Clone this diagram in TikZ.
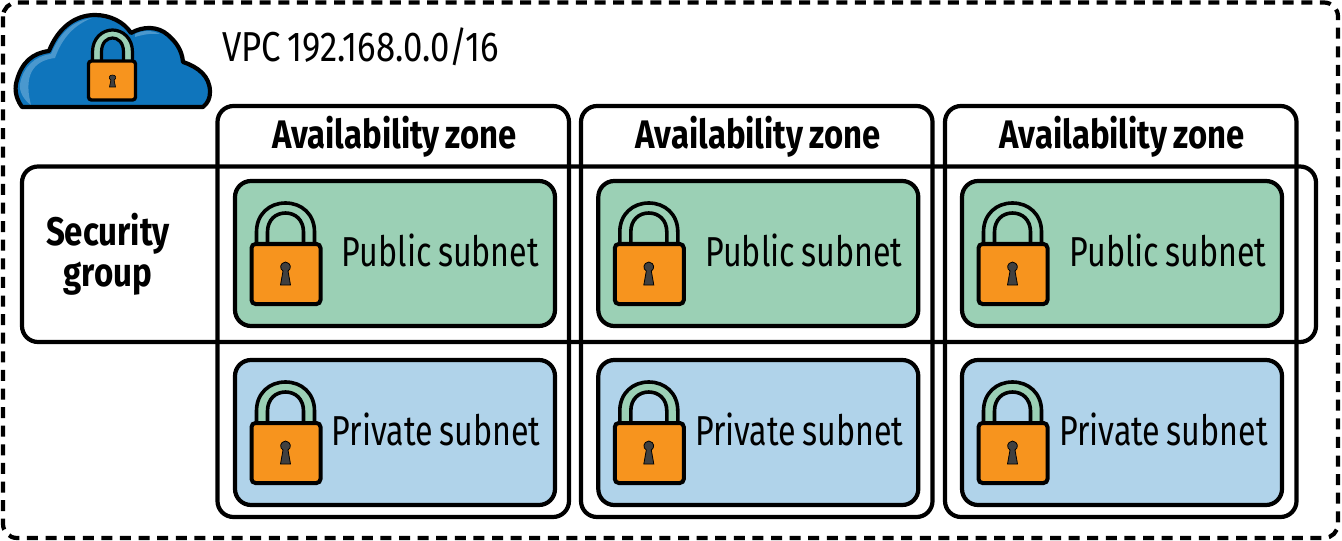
\documentclass[tikz,border=0pt]{standalone}
\usepackage{fontspec}
\setmainfont[WordSpace=0.75]{Fira Sans}
\definecolor{pubgreen}{HTML}{9BD0B5}
\definecolor{privblue}{HTML}{B0D3EA}
\definecolor{lockorange}{HTML}{F7941E}
\definecolor{cloudblue}{HTML}{0F75BC}
\definecolor{cloudlight}{HTML}{4A98CE}
\newcommand{\lbl}[1]{\scalebox{0.77}[1]{#1}}
\tikzset{
  x=1bp,y=-1bp,
  ln/.style={draw=black,line width=4.2bp},
  azbox/.style={ln,rounded corners=16bp},
  pubbox/.style={ln,rounded corners=16bp,fill=pubgreen},
  privbox/.style={ln,rounded corners=16bp,fill=privblue},
  lab/.style={font=\fontsize{42}{44}\selectfont,inner sep=0pt,anchor=center},
  labb/.style={font=\fontsize{40}{44}\selectfont\bfseries,inner sep=0pt,anchor=center},
  padlock/.pic={
    \path[fill=pubgreen,draw=black,line width=3.6bp,line join=round]
      (-29,-24) -- (-29,-36) .. controls (-29,-54) and (-16,-65) .. (0,-65)
      .. controls (16,-65) and (29,-54) .. (29,-36) -- (29,-24) -- (18,-24)
      -- (18,-36) .. controls (18,-48) and (10,-55) .. (0,-55)
      .. controls (-10,-55) and (-18,-48) .. (-18,-36) -- (-18,-24) -- cycle;
    \path[fill=lockorange,draw=black,line width=4bp,rounded corners=4bp]
      (-34,-24) rectangle (35,36);
    \path[fill=black!75,draw=black,line width=.8bp]
      (-2.5,3) -- (-5,17) -- (5,17) -- (2.5,3) .. controls (6,1) and (6,-5) .. (0,-6)
      .. controls (-6,-5) and (-6,1) .. (-2.5,3) -- cycle;
  },
  cloudlock/.pic={
    \path[fill=pubgreen,draw=black,line width=3.2bp,line join=round]
      (-20,-18) -- (-20,-28) .. controls (-20,-42) and (-10,-50) .. (0,-50)
      .. controls (10,-50) and (20,-42) .. (20,-28) -- (20,-18) -- (11,-18)
      -- (11,-28) .. controls (11,-38) and (5,-42) .. (0,-42)
      .. controls (-5,-42) and (-11,-38) .. (-11,-28) -- (-11,-18) -- cycle;
    \path[fill=lockorange,draw=black,line width=3.4bp,rounded corners=3bp]
      (-24,-19) rectangle (23,20);
    \path[fill=black!75,draw=black,line width=.6bp]
      (-1.6,0) -- (-3,7) -- (3,7) -- (1.6,0) .. controls (4,-1) and (4,-5) .. (0,-5)
      .. controls (-4,-5) and (-4,-1) .. (-1.6,0) -- cycle;
  }
}
\begin{document}
\begin{tikzpicture}
\useasboundingbox (0,0) rectangle (1342,541);
\fill[white] (0,0) rectangle (1342,541);
% outer dashed VPC
\draw[line width=4.2bp,dash pattern=on 11bp off 7.6bp,rounded corners=14bp] (3,2.5) rectangle (1338,538);
% cloud
\path[fill=cloudblue] (22,107) .. controls (14,96) and (15,86) .. (17,80)
  .. controls (22,62) and (33,53) .. (49,51)
  .. controls (58,28) and (75,15) .. (95,15)
  .. controls (110,15) and (124,22) .. (131,33)
  .. controls (143,26) and (158,26) .. (168,35)
  .. controls (176,42) and (182,50) .. (183,62)
  .. controls (198,67) and (210,76) .. (210,92)
  .. controls (210,98) and (208,103) .. (203,107) -- cycle;
\path[fill=cloudlight] (20,84) .. controls (23,67) and (35,56) .. (51,54)
  .. controls (60,33) and (72,21) .. (92,18)
  .. controls (74,25) and (62,38) .. (55,58)
  .. controls (38,60) and (22,70) .. (31,105)
  .. controls (24,100) and (19,92) .. (20,84) -- cycle;
\path[fill=cloudlight] (135,34) .. controls (143,30) and (152,30) .. (160,34) .. controls (150,33) and (142,35) .. (135,37) -- cycle;
\path[draw=black,line width=4.2bp,line join=round]
  (22,107) .. controls (14,96) and (15,86) .. (17,80)
  .. controls (22,62) and (33,53) .. (49,51)
  .. controls (58,28) and (75,15) .. (95,15)
  .. controls (110,15) and (124,22) .. (131,33)
  .. controls (143,26) and (158,26) .. (168,35)
  .. controls (176,42) and (182,50) .. (183,62)
  .. controls (198,67) and (210,76) .. (210,92)
  .. controls (210,98) and (208,103) .. (203,107) -- cycle;
\pic at (112.5,80) {cloudlock};
\node[lab] (vpc) at (360.5,47) {\scalebox{0.83}[1]{VPC 192.168.0.0/16}};
% subnets
\foreach \n/\x in {a/0,b/363.3,c/727}{
  \path[pubbox] (235+\x,181) rectangle (555+\x,326);
  \path[privbox] (235+\x,360) rectangle (555+\x,505);
  \pic at (285.5+\x,268) {padlock};
  \pic at (285.5+\x,447) {padlock};
}
% availability zones
\foreach \n/\x in {a/0,b/363.5,c/727.5}{
  \path[azbox] (217.5+\x,106) rectangle (569+\x,517);
  \node[labb] (az\n) at (394.5+\x,137) {\scalebox{0.825}[1]{Availability zone}};
}
\foreach \n/\x in {a/0,b/363.3,c/727.5}{
  \node[lab] (pub\n) at (440.5+\x,250.5) {\lbl{Public subnet}};
  \node[lab] (priv\n) at (436+\x,429.5) {\lbl{Private subnet}};
}
% security group
\path[azbox] (22,166.5) rectangle (1316,342);
\node[labb] (sg1) at (108,234) {\scalebox{0.83}[1]{Security}};
\node[labb] (sg2) at (108,279) {\scalebox{0.83}[1]{group}};
\end{tikzpicture}
\end{document}
